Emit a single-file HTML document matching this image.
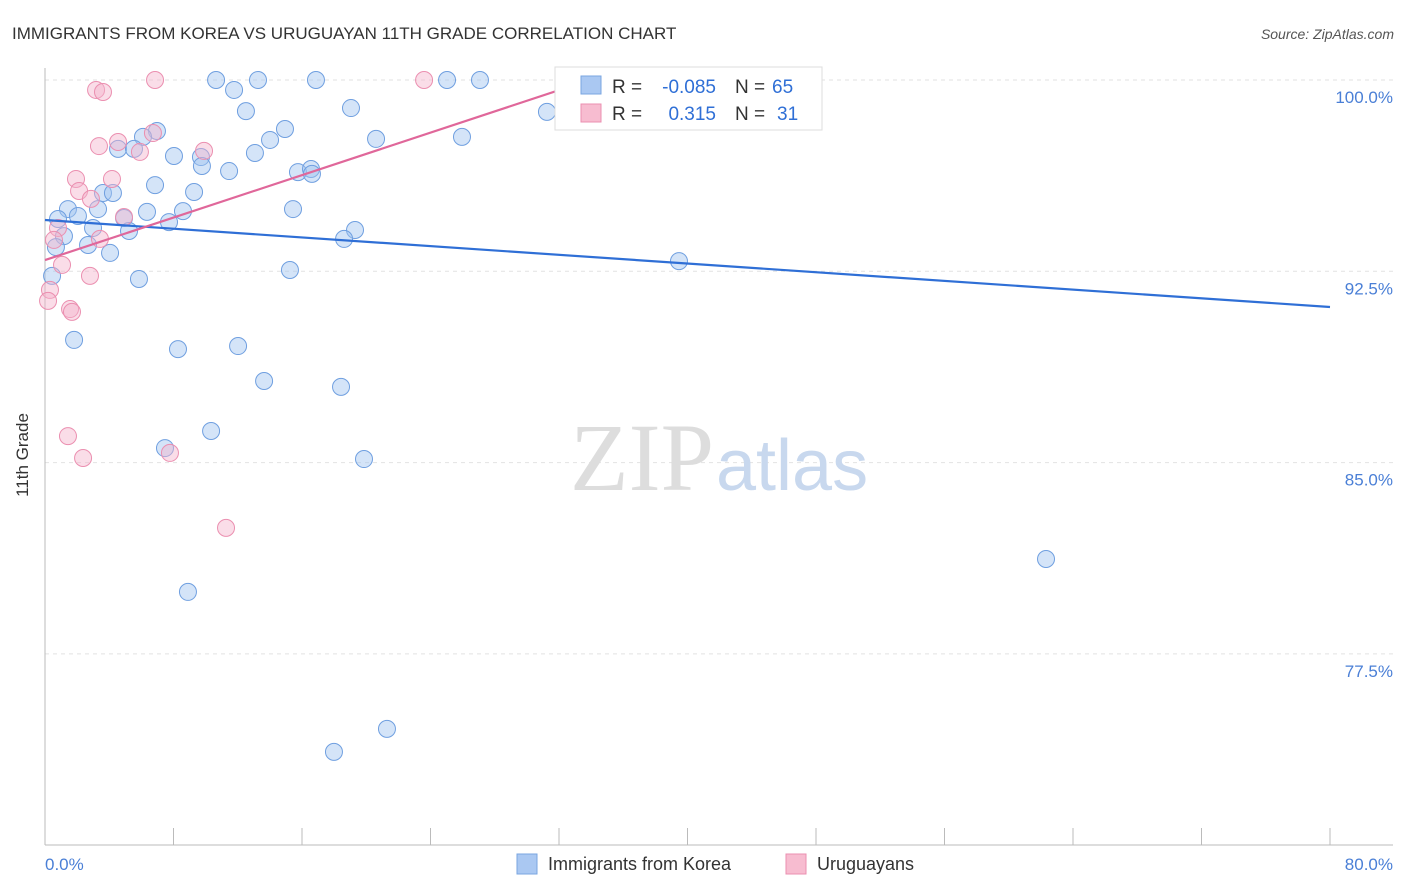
<!DOCTYPE html>
<html><head><meta charset="utf-8"><style>
body{margin:0;background:#fff;font-family:"Liberation Sans",sans-serif}
svg{display:block}
</style></head><body>
<svg width="1406" height="892" xmlns="http://www.w3.org/2000/svg">
<text x="12" y="39" font-size="17" fill="#333">IMMIGRANTS FROM KOREA VS URUGUAYAN 11TH GRADE CORRELATION CHART</text>
<text x="1394" y="39" font-size="14" fill="#555" font-style="italic" text-anchor="end">Source: ZipAtlas.com</text>
<g id="grid"></g>
<text x="714" y="490" font-size="96" fill="#ddd" text-anchor="end" font-family="Liberation Serif,serif">ZIP</text>
<text x="716" y="490" font-size="72" fill="#c8d8ee">atlas</text>
<line x1="45" y1="68" x2="45" y2="845" stroke="#bbb"/>
<line x1="45" y1="845" x2="1393" y2="845" stroke="#bbb"/>
<g id="ticks"></g>
<g id="pts"></g>
<g id="trend"></g>
<text x="28" y="455" font-size="17" fill="#333" transform="rotate(-90 28 455)" text-anchor="middle">11th Grade</text>
<text x="45" y="870" font-size="17" fill="#4a7fd6">0.0%</text>
<text x="1393" y="870" font-size="17" fill="#4a7fd6" text-anchor="end">80.0%</text>
<g font-size="19">
<rect x="555" y="67" width="267" height="63" fill="#fff" stroke="#ddd"/>
<rect x="581" y="76" width="20" height="18" fill="#aac8f2" stroke="#7aa6e0"/>
<rect x="581" y="104" width="20" height="18" fill="#f7bcd0" stroke="#eb8fb0"/>
<text x="612" y="93" fill="#333">R =</text>
<text x="716" y="93" fill="#2f6fd6" text-anchor="end">-0.085</text>
<text x="735" y="93" fill="#333">N =</text>
<text x="772" y="93" fill="#2f6fd6">65</text>
<text x="612" y="120" fill="#333">R =</text>
<text x="716" y="120" fill="#2f6fd6" text-anchor="end">0.315</text>
<text x="735" y="120" fill="#333">N =</text>
<text x="777" y="120" fill="#2f6fd6">31</text>
</g>
<g>
<rect x="517" y="854" width="20" height="20" fill="#aac8f2" stroke="#7aa6e0"/>
<text x="548" y="870" font-size="18" fill="#333">Immigrants from Korea</text>
<rect x="786" y="854" width="20" height="20" fill="#f7bcd0" stroke="#eb8fb0"/>
<text x="817" y="870" font-size="18" fill="#333">Uruguayans</text>
</g>
</svg>
<script>
const yTicks=[100,92.5,85,77.5];
const yTickLabels=["100.0%","92.5%","85.0%","77.5%"];
const xTickVals=[0,8,16,24,32,40,48,56,64,72,80];
const koreaX=[10.65,13.26,16.87,25.03,27.08,11.77,19.05,12.51,31.25,6.97,14.94,6.10,14.01,20.61,25.96,4.55,5.54,8.03,13.07,9.71,9.77,11.46,15.75,16.56,16.62,6.85,3.61,4.23,9.28,1.43,3.30,15.44,6.35,8.59,0.81,2.05,4.92,7.72,2.99,5.23,1.18,19.30,18.62,2.68,0.68,4.05,39.47,15.25,5.85,0.44,1.81,8.28,12.02,13.64,18.43,10.34,7.47,19.86,62.32,8.90,21.29,17.99,39.41];
const koreaY=[100,100,100,100,100,99.61,98.90,98.78,98.75,98.00,98.08,97.77,97.65,97.69,97.77,97.30,97.30,97.02,97.14,96.98,96.63,96.43,96.39,96.51,96.32,95.88,95.57,95.57,95.61,94.94,94.94,94.94,94.83,94.86,94.55,94.67,94.59,94.43,94.20,94.08,93.88,94.12,93.77,93.53,93.45,93.22,92.90,92.55,92.20,92.32,89.81,89.45,89.57,88.20,87.97,86.24,85.57,85.14,81.22,79.93,74.56,73.66,100];
const uruX=[6.85,23.60,3.18,3.61,6.72,4.55,5.91,9.90,3.36,1.93,4.17,2.12,2.86,4.92,0.81,3.42,0.56,1.06,2.80,0.31,0.19,1.56,1.68,1.43,2.37,7.78,11.27];
const uruY=[100,100,99.61,99.53,97.92,97.57,97.18,97.22,97.41,96.12,96.12,95.65,95.34,94.63,94.20,93.77,93.73,92.75,92.32,91.77,91.34,91.02,90.91,86.04,85.18,85.38,82.44];
const koreaTrend=[[0,94.51],[80,91.10]];
const uruTrend=[[0,92.94],[34.87,100.2]];
const NS="http://www.w3.org/2000/svg";
const sx=v=>45+v*16.0625, sy=v=>80+(100-v)*25.507;
function mk(t,a,p){const e=document.createElementNS(NS,t);for(const k in a)e.setAttribute(k,a[k]);p.appendChild(e);return e;}
const grid=document.getElementById('grid');
yTicks.forEach((v,i)=>{
 const l=mk('line',{x1:45,x2:1393,y1:sy(v),y2:sy(v),stroke:'#e2e2e2','stroke-dasharray':'4,4'},grid);
 
 
 const t=mk('text',{x:1393,y:sy(v)+23,'font-size':17,fill:'#4a7fd6','text-anchor':'end'},grid);
 t.textContent=yTickLabels[i];
 
 
});
const tk=document.getElementById('ticks');
xTickVals.forEach(v=>{
 const l=mk('line',{x1:sx(v),x2:sx(v),y1:828,y2:845,stroke:'#bbb'},tk);
 
 
});
const pts=document.getElementById('pts');
koreaX.forEach((x,i)=>{
 const c=mk('circle',{cx:sx(x),cy:sy(koreaY[i]),r:8.5,fill:'rgba(160,195,240,0.45)',stroke:'#6f9fe0','stroke-width':1},pts);
 
 
});
uruX.forEach((x,i)=>{
 const c=mk('circle',{cx:sx(x),cy:sy(uruY[i]),r:8.5,fill:'rgba(245,180,204,0.45)',stroke:'#eb8fb0','stroke-width':1},pts);
 
 
});
const tr=document.getElementById('trend');
const l1=mk('line',{x1:sx(koreaTrend[0][0]),y1:sy(koreaTrend[0][1]),x2:sx(koreaTrend[1][0]),y2:sy(koreaTrend[1][1]),stroke:'#2f6fd6','stroke-width':2.2},tr);


const l2=mk('line',{x1:sx(uruTrend[0][0]),y1:sy(uruTrend[0][1]),x2:sx(uruTrend[1][0]),y2:sy(uruTrend[1][1]),stroke:'#e0679a','stroke-width':2.2},tr);


</script>
</body></html>
